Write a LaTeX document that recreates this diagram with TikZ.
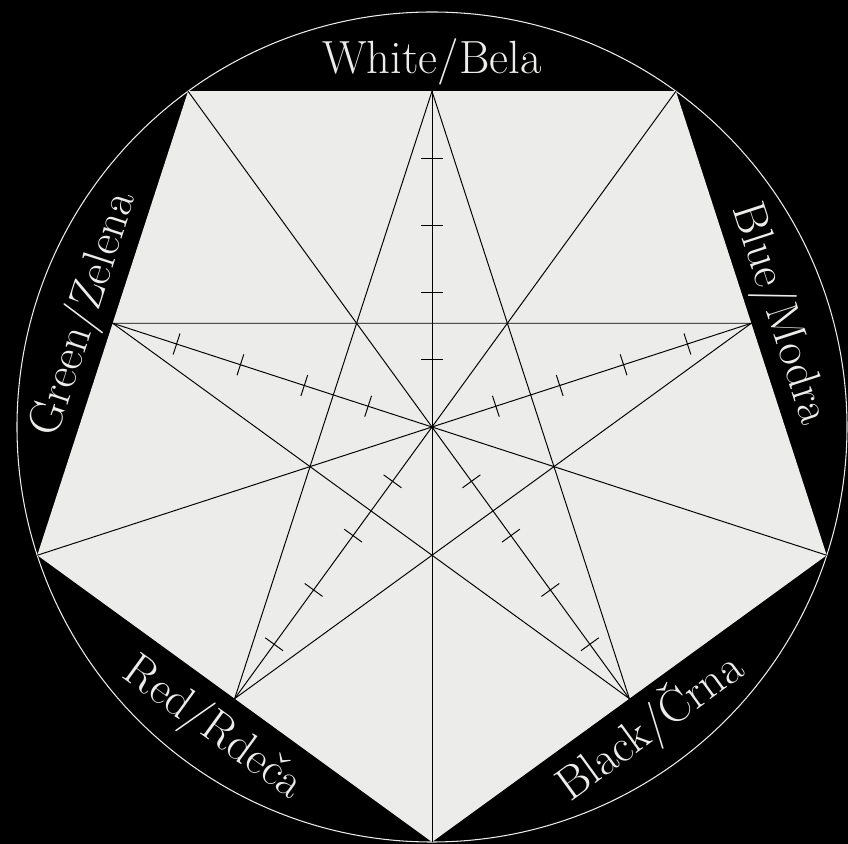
\documentclass[tikz,border=0pt]{standalone}
\usepackage{fontspec}
\usepackage{tikz}
\usetikzlibrary{calc}
\definecolor{wheelgray}{RGB}{236, 236, 234}
\definecolor{ringwhite}{RGB}{235, 235, 235}

\begin{document}
\begin{tikzpicture}[x=0.02cm, y=0.02cm,
    colorlabel/.style={text=wheelgray, inner sep=0pt,
        font=\fontsize{26.5}{30}\selectfont,
        text height=18.1pt, text depth=0pt},
    wheelline/.style={black, line width=0.55pt}]
    % black page
    \fill[black] (-432,-417) rectangle (416,427);
    \useasboundingbox (-432,-417) rectangle (416,427);
    \coordinate (O) at (0,0);
    % pentagon corners
    \foreach \i/\a in {1/54, 2/126, 3/198, 4/270, 5/342}
        \coordinate (V\i) at (\a:415);
    % edge midpoints
    \coordinate (M1) at ($(V1)!0.5!(V2)$);
    \coordinate (M2) at ($(V2)!0.5!(V3)$);
    \coordinate (M3) at ($(V3)!0.5!(V4)$);
    \coordinate (M4) at ($(V4)!0.5!(V5)$);
    \coordinate (M5) at ($(V5)!0.5!(V1)$);
    \draw[ringwhite, line width=0.6pt] (O) circle (415);
    \fill[wheelgray] (V1)--(V2)--(V3)--(V4)--(V5)--cycle;
    % star
    \draw[wheelline] (M1)--(M3)--(M5)--(M2)--(M4)--cycle;
    % corner to opposite side
    \draw[wheelline] (V1)--(M3);
    \draw[wheelline] (V2)--(M4);
    \draw[wheelline] (V3)--(M5);
    \draw[wheelline] (V4)--(M1);
    \draw[wheelline] (V5)--(M2);
    % ticks
    \foreach \a in {90, 162, 234, 306, 18}
        \foreach \d in {1,...,4}
            \draw[wheelline, rotate=\a] (\d*67.14,-11) -- (\d*67.14,11);
    % colour names
    \node[colorlabel] (white) at (90:369) {White/Bela};
    \node[colorlabel, rotate=-72] (blue) at (18:369) {Blue/Modra};
    \node[colorlabel, rotate=36] (black) at (-54:369) {Black/Črna};
    \node[colorlabel, rotate=-36] (red) at (234:369) {Red/Rdeča};
    \node[colorlabel, rotate=72] (green) at (162:369) {Green/Zelena};
\end{tikzpicture}
\end{document}
